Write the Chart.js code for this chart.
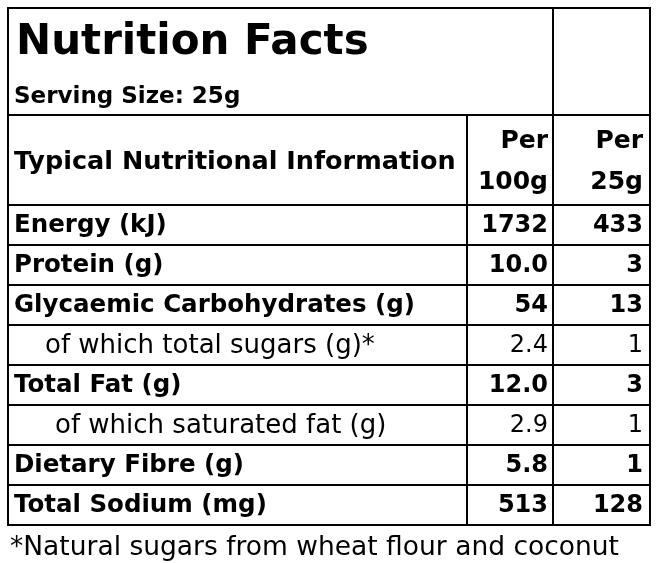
<!DOCTYPE html>
<html>
<head>
<meta charset="utf-8">
<script src="https://cdn.jsdelivr.net/npm/chart.js@4"></script>
<style>
  body { margin: 0; background: #fff; }
  #wrap { width: 657px; height: 563px; }
</style>
</head>
<body>
<div id="wrap"><canvas id="table" width="657" height="563"></canvas></div>
<script>
const title = 'Nutrition Facts';
const servingSize = 'Serving Size: 25g';
const headerLabel = 'Typical Nutritional Information';
const columnHeads = [['Per', '100g'], ['Per', '25g']];
const nutrients = ['Energy (kJ)', 'Protein (g)', 'Glycaemic Carbohydrates (g)', 'of which total sugars (g)*',
  'Total Fat (g)', 'of which saturated fat (g)', 'Dietary Fibre (g)', 'Total Sodium (mg)'];
const per100g = ['1732', '10.0', '54', '2.4', '12.0', '2.9', '5.8', '513'];
const perServe = ['433', '3', '13', '1', '3', '1', '1', '128'];
const isSub = [false, false, false, true, false, true, false, false];
const footnote = '*Natural sugars from wheat flour and coconut';

const FONT = '"DejaVu Sans", sans-serif';

const tablePlugin = {
  id: 'nutritionTable',
  afterDraw(chart) {
    const ctx = chart.ctx;
    const L = 8, R = 650, T = 8, c1 = 467, c2 = 553;
    const titleBottom = 115, headBottom = 205, rowH = 40;
    const B = headBottom + rowH * nutrients.length;
    ctx.save();
    ctx.fillStyle = '#fff';
    ctx.fillRect(0, 0, chart.width, chart.height);
    ctx.strokeStyle = '#000';
    ctx.lineWidth = 2;
    ctx.strokeRect(L, T, R - L, B - T);
    const line = (x1, y1, x2, y2) => { ctx.beginPath(); ctx.moveTo(x1, y1); ctx.lineTo(x2, y2); ctx.stroke(); };
    line(L, titleBottom, R, titleBottom);
    line(c2, T, c2, B);
    line(c1, titleBottom, c1, B);
    for (let i = 0; i < nutrients.length; i++) line(L, headBottom + i * rowH, R, headBottom + i * rowH);

    ctx.fillStyle = '#000';
    ctx.textBaseline = 'middle';
    ctx.textAlign = 'left';
    ctx.font = 'bold 42px ' + FONT;
    ctx.fillText(title, 16, 43);
    ctx.font = 'bold 23px ' + FONT;
    ctx.fillText(servingSize, 14, 97);
    ctx.font = 'bold 25.5px ' + FONT;
    ctx.fillText(headerLabel, 14, 162, c1 - 20);
    ctx.font = 'bold 25px ' + FONT;
    ctx.textAlign = 'right';
    ctx.fillText(columnHeads[0][0], c2 - 5, 141);
    ctx.fillText(columnHeads[0][1], c2 - 5, 182);
    ctx.fillText(columnHeads[1][0], R - 7, 141);
    ctx.fillText(columnHeads[1][1], R - 7, 182);

    nutrients.forEach((n, i) => {
      const y = headBottom + i * rowH + rowH / 2 + 1;
      ctx.font = (isSub[i] ? 'normal 26px ' : 'bold 24.5px ') + FONT;
      ctx.textAlign = 'left';
      const x = isSub[i] ? (i === 5 ? 55 : 45) : 14;
      ctx.fillText(n, x, y, c1 - x - 8);
      ctx.font = (isSub[i] ? 'normal 24px ' : 'bold 24px ') + FONT;
      ctx.textAlign = 'right';
      ctx.fillText(per100g[i], c2 - 5, y);
      ctx.fillText(perServe[i], R - 7, y);
    });

    ctx.textAlign = 'left';
    ctx.font = 'normal 26.5px ' + FONT;
    ctx.fillText(footnote, 10, 548, 630);
    ctx.restore();
  }
};

new Chart(document.getElementById('table'), {
  type: 'bar',
  data: { labels: nutrients, datasets: [{ data: per100g.map(Number), backgroundColor: 'rgba(0,0,0,0)' }] },
  options: {
    responsive: false,
    animation: false,
    events: [],
    plugins: { legend: { display: false }, tooltip: { enabled: false } },
    scales: { x: { display: false }, y: { display: false } }
  },
  plugins: [tablePlugin]
});
</script>
</body>
</html>
